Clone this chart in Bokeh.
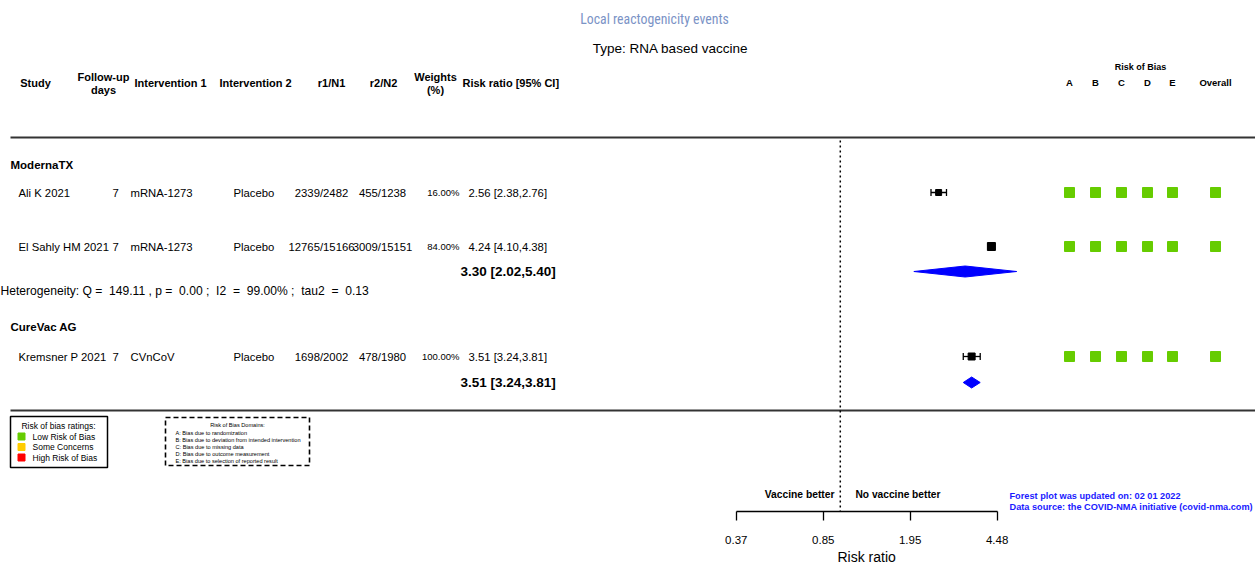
import math
from bokeh.plotting import figure
from bokeh.models import (Range1d, LogScale, LogAxis, FixedTicker, PrintfTickFormatter,
                          ColumnDataSource, Title)
from bokeh.core.properties import value
from bokeh.embed import file_html
from bokeh.resources import INLINE

# ---------------- data ----------------
title = "Local reactogenicity events"
subtitle = "Type: RNA based vaccine"
groups = ["ModernaTX", "CureVac AG"]
studies = ["Ali K 2021", "El Sahly HM 2021", "Kremsner P 2021"]
study_group = [0, 0, 1]
followup = ["7", "7", "7"]
interv1 = ["mRNA-1273", "mRNA-1273", "CVnCoV"]
interv2 = ["Placebo", "Placebo", "Placebo"]
r1n1 = ["2339/2482", "12765/15166", "1698/2002"]
r2n2 = ["455/1238", "3009/15151", "478/1980"]
weights = [16.00, 84.00, 100.00]
rr = [2.56, 4.24, 3.51]
rr_lo = [2.38, 4.10, 3.24]
rr_hi = [2.76, 4.38, 3.81]
pooled_rr = [3.30, 3.51]
pooled_lo = [2.02, 3.24]
pooled_hi = [5.40, 3.81]
het_Q = 149.11
het_p = 0.00
het_I2 = 99.00
het_tau2 = 0.13
rob_domains = ["A", "B", "C", "D", "E", "Overall"]
rob = [["Low"] * 6, ["Low"] * 6, ["Low"] * 6]
rob_colors = {"Low": "#66cc00", "Some": "#ffcc00", "High": "#ff0000"}
rob_legend = ["Low Risk of Bias", "Some Concerns", "High Risk of Bias"]
rob_legend_keys = ["Low", "Some", "High"]
domain_text = ["A: Bias due to randomization",
               "B: Bias due to deviation from intended intervention",
               "C: Bias due to missing data",
               "D: Bias due to outcome measurement",
               "E: Bias due to selection of reported result"]
ticks = [0.37, 0.85, 1.95, 4.48]
axis_title = "Risk ratio"
footnotes = ["Forest plot was updated on: 02 01 2022",
             "Data source: the COVID-NMA initiative (covid-nma.com)"]

# ---------------- layout ----------------
def fs(px):
    return f"{px:.1f}px"

ARIAL = "Liberation Sans"
NB = "\u00a0"
X0, K = 839.8, 104.6  # position of RR=1 and px per ln unit
YB = 511              # frame bottom (axis line)

p = figure(width=1255, height=569, x_range=Range1d(0, 1255), y_range=Range1d(YB, 0),
           output_backend="svg", toolbar_location=None,
           x_axis_location=None, y_axis_location=None,
           min_border=0, min_border_bottom=569 - YB)
p.outline_line_color = None
p.grid.grid_line_color = None
p.background_fill_color = "white"
p.border_fill_color = "white"
p.extra_x_ranges = {"rr": Range1d(math.exp(-X0 / K), math.exp((1255 - X0) / K))}
p.extra_x_scales = {"rr": LogScale()}

ax = LogAxis(x_range_name="rr", ticker=FixedTicker(ticks=ticks, minor_ticks=[]),
             formatter=PrintfTickFormatter(format="%.2f"),
             bounds=(ticks[0], ticks[-1]))
ax.axis_line_color = "black"
ax.axis_line_width = 1.3
ax.major_tick_line_color = "black"
ax.major_tick_line_width = 1.3
ax.major_tick_out = 9
ax.major_tick_in = 0
ax.minor_tick_out = 0
ax.major_label_standoff = 15
ax.major_label_text_font = ARIAL
ax.major_label_text_font_size = fs(11.5)
ax.major_label_text_color = "black"
p.add_layout(ax, "below")

# axis title centred under the axis, as a title placed below the axis
ax_title = Title(text=axis_title, align="left", offset=837, standoff=0,
                 text_font=ARIAL, text_font_size=fs(14), text_font_style="normal",
                 text_color="black")
p.add_layout(ax_title, "below")


def txt(x, y, s, size, bold=False, align="left", color="black", font=ARIAL):
    p.text(x=x, y=y, text=s, text_font=value(font), text_font_size=fs(size),
           text_font_style="bold" if bold else "normal", text_align=align,
           text_baseline="middle", text_color=color)

# title
txt([654], [18], [title], 13.8, color="#7b93c6", align="center",
    font="'Liberation Sans Narrow', 'Roboto Condensed', 'DejaVu Sans Condensed', sans-serif")
txt([670], [48], [subtitle], 13.5, align="center")

# headers
txt([35], [82], ["Study"], 11, bold=True, align="center")
txt([103, 103], [76, 89], ["Follow-up", "days"], 11, bold=True, align="center")
txt([170], [82], ["Intervention 1"], 11, bold=True, align="center")
txt([255], [82], ["Intervention 2"], 11, bold=True, align="center")
txt([331], [82], ["r1/N1"], 11, bold=True, align="center")
txt([383], [82], ["r2/N2"], 11, bold=True, align="center")
txt([435, 435], [76, 89], ["Weights", "(%)"], 11, bold=True, align="center")
txt([462], [82], ["Risk ratio [95% CI]"], 11, bold=True)
txt([1140], [66], ["Risk of Bias"], 9, bold=True, align="center")
rob_x = [1069, 1095, 1121, 1147, 1172, 1215]
txt(rob_x, [82] * 6, rob_domains, 9.5, bold=True, align="center")

# separators
p.segment(x0=[10, 10], x1=[1255, 1255], y0=[137, 410], y1=[137, 410],
          line_color="#333333", line_width=2)

# group rows and study rows
group_y = [164, 326]
study_y = [192, 246, 356]
pooled_y = [271, 382]
txt([10, 10], group_y, groups, 11.5, bold=True)

cap = 3.5
src = ColumnDataSource(dict(
    y=study_y, study=studies, fu=followup, i1=interv1, i2=interv2, r1=r1n1, r2=r2n2,
    w=[f"{w:.2f}%" for w in weights],
    ci=[f"{a:.2f} [{b:.2f},{c:.2f}]" for a, b, c in zip(rr, rr_lo, rr_hi)],
    rr=rr, lo=rr_lo, hi=rr_hi,
    ytop=[y - cap for y in study_y], ybot=[y + cap for y in study_y],
    sz=[6, 8, 7]))

def coltxt(x, field, size, align="left"):
    p.text(x=x, y="y", text=field, source=src, text_font=value(ARIAL),
           text_font_size=fs(size), text_align=align, text_baseline="middle",
           text_color="black")

coltxt(18, "study", 11.3)
coltxt(112, "fu", 11.3)
coltxt(130, "i1", 11.3)
coltxt(233, "i2", 11.3)
coltxt(321, "r1", 11.3, "center")
coltxt(382, "r2", 11.3, "center")
coltxt(459, "w", 9.5, "right")
coltxt(468, "ci", 11.3)

# pooled text
txt([460, 460], pooled_y,
    [f"{a:.2f} [{b:.2f},{c:.2f}]" for a, b, c in zip(pooled_rr, pooled_lo, pooled_hi)],
    13.5, bold=True)
het = (f"Heterogeneity: Q ={NB}{NB}{het_Q:.2f} , p ={NB}{NB}{het_p:.2f} ;{NB}{NB}I2{NB}{NB}={NB}{NB}"
       f"{het_I2:.2f}% ;{NB}{NB}tau2{NB}{NB}={NB}{NB}{het_tau2:.2f}")
txt([0], [290], [het], 12.1)

# forest: CI lines, caps, squares
p.segment(x0="lo", x1="hi", y0="y", y1="y", source=src, x_range_name="rr",
          line_color="black", line_width=1.3)
p.segment(x0="lo", x1="lo", y0="ytop", y1="ybot",
          source=src, x_range_name="rr", line_color="black", line_width=1.3)
p.segment(x0="hi", x1="hi", y0="ytop", y1="ybot",
          source=src, x_range_name="rr", line_color="black", line_width=1.3)
p.scatter(x="rr", y="y", source=src, marker="square", size="sz", x_range_name="rr",
          fill_color="black", line_color="black")

# pooled diamonds
dh = 5.5
p.patches(xs=[[a, b, c, b] for a, b, c in zip(pooled_lo, pooled_rr, pooled_hi)],
          ys=[[y, y - dh, y, y + dh] for y in pooled_y], x_range_name="rr",
          fill_color="#0000ff", line_color="#0000ff", line_width=1)

# null line
p.segment(x0=[1], x1=[1], y0=[140], y1=[YB], x_range_name="rr",
          line_color="black", line_width=1.5, line_dash="2 3")

# risk of bias squares
rx, ry, rc = [], [], []
for y, row in zip(study_y, rob):
    for x, r in zip(rob_x, row):
        rx.append(x); ry.append(y); rc.append(rob_colors[r])
p.scatter(x=rx, y=ry, marker="square", size=10, fill_color=rc, line_color=rc)

# legend box 1
p.quad(left=[10], right=[107], top=[416], bottom=[467], fill_color="white",
       line_color="black", line_width=1.5)
txt([58], [425], ["Risk of bias ratings:"], 8.5, align="center")
leg_y = [436, 446.5, 457]
p.scatter(x=[21] * 3, y=leg_y, marker="square", size=7,
          fill_color=[rob_colors[k] for k in rob_legend_keys],
          line_color=[rob_colors[k] for k in rob_legend_keys])
txt([32] * 3, leg_y, rob_legend, 8.5)

# legend box 2
p.quad(left=[165], right=[309], top=[417], bottom=[465], fill_color="white",
       line_color="black", line_width=1.6, line_dash="5 3")
txt([237], [424], ["Risk of Bias Domains:"], 5.6, align="center")
txt([175] * 5, [432, 439, 446, 453, 460], domain_text, 5.6)

# direction labels
txt([834], [494], ["Vaccine better"], 10.3, bold=True, align="right")
txt([855], [494], ["No vaccine better"], 10.2, bold=True)

# footnotes
txt([1009, 1009], [495, 506.5], footnotes, 9.2, bold=True, color="#1a1aff")

open("out.html", "w").write(file_html(p, INLINE))
